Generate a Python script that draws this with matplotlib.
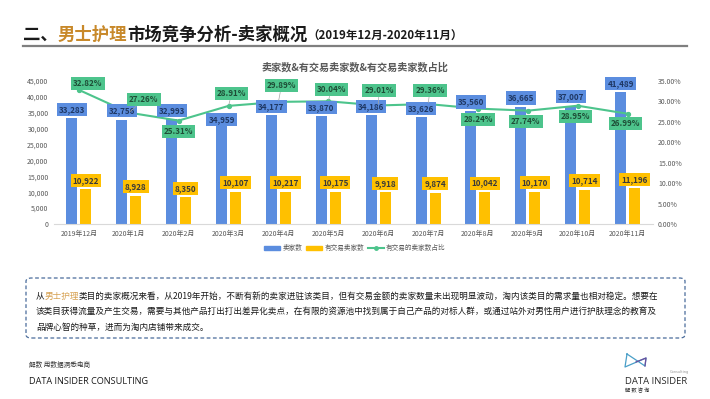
import matplotlib
matplotlib.use("Agg")
import matplotlib.pyplot as plt
from matplotlib.patches import FancyBboxPatch, Patch
from matplotlib.lines import Line2D
import numpy as np

plt.rcParams['font.family'] = ['Noto Sans CJK SC', 'DejaVu Sans']

months = ['2019年12月', '2020年1月', '2020年2月', '2020年3月', '2020年4月', '2020年5月',
          '2020年6月', '2020年7月', '2020年8月', '2020年9月', '2020年10月', '2020年11月']
sellers = [33283, 32756, 32993, 34959, 34177, 33870, 34186, 33626, 35560, 36665, 37007, 41489]
traded = [10922, 8928, 8350, 10107, 10217, 10175, 9918, 9874, 10042, 10170, 10714, 11196]
ratio = [32.82, 27.26, 25.31, 28.91, 29.89, 30.04, 29.01, 29.36, 28.24, 27.74, 28.95, 26.99]
left_ticks = [0, 5000, 10000, 15000, 20000, 25000, 30000, 35000, 40000, 45000]
right_ticks = [0, 5, 10, 15, 20, 25, 30, 35]

# label placement (pixels offset) - style only
ratio_off = [(9, 6), (15, 13), (0, -11), (3, 12), (3, 16), (3, 12), (1, 15), (2, 14),
             (0, -11), (-2, -11), (-2, -11), (-2, -10)]
seller_off = [9, 9, 9, -7, 9, 9, 9, 9, 9, 9.5, 9.5, 9]

W, H = 710, 399
BLUE = '#5B8DDF'
YEL = '#FFC000'
GRN = '#4DC48C'
GOLD = '#C8892A'

fig = plt.figure(figsize=(W / 100, H / 100), dpi=100)
fig.patch.set_facecolor('white')

def fx(x):
    return x / W

def fy(y):
    return 1 - y / H

# ---- title ----
t1 = fig.text(fx(23), fy(40), '二、', fontsize=12.5, fontweight='bold', color='#1a1a1a', va='baseline')
t2 = fig.text(0, 0, '男士护理', fontsize=12.5, fontweight='bold', color=GOLD, va='baseline')
t3 = fig.text(0, 0, '市场竞争分析-卖家概况', fontsize=12.5, fontweight='bold', color='#1a1a1a', va='baseline')
t4 = fig.text(0, 0, '（2019年12月-2020年11月）', fontsize=8.3, fontweight='bold', color='#1a1a1a', va='baseline')
fig.canvas.draw()
r = fig.canvas.get_renderer()
def place_after(prev, nxt, y):
    bb = prev.get_window_extent(r)
    nxt.set_position((bb.x1 / fig.bbox.width, y))
place_after(t1, t2, fy(40))
fig.canvas.draw()
place_after(t2, t3, fy(40))
fig.canvas.draw()
place_after(t3, t4, fy(40))

fig.add_artist(Line2D([fx(23), fx(687)], [fy(46), fy(46)], color='#7f7f7f', lw=1.6))

# chart title
fig.text(fx(355), fy(67), '卖家数&有交易卖家数&有交易卖家数占比', fontsize=7.3, fontweight='bold',
         color='#595959', ha='center', va='center')

# ---- axes ----
ax = fig.add_axes([fx(54), fy(224), (652.5 - 54) / W, (224 - 81) / H])
x = np.arange(len(months))
bw = 0.22
ax.bar(x - 0.14, sellers, bw, color=BLUE, zorder=2)
ax.bar(x + 0.14, traded, bw, color=YEL, zorder=2)
ax.set_xlim(-0.5, len(months) - 0.5)
ax.set_ylim(0, 45000)
ax.set_yticks(left_ticks)
ax.set_yticklabels([f'{v:,}' for v in left_ticks])
ax.set_xticks(x)
ax.set_xticklabels(months)
ax.tick_params(axis='y', length=0, labelsize=5, labelcolor='#595959', pad=4)
ax.tick_params(axis='x', length=0, labelsize=5, labelcolor='#595959', pad=4)
for s in ['top', 'right', 'left']:
    ax.spines[s].set_visible(False)
ax.spines['bottom'].set_color('#d9d9d9')
ax.spines['bottom'].set_linewidth(0.8)
ax.set_facecolor('none')

ax2 = ax.twinx()
ax2.set_ylim(0, 35)
ax2.set_yticks(right_ticks)
ax2.set_yticklabels([f'{v:.2f}%' for v in right_ticks])
ax2.tick_params(axis='y', length=0, labelsize=5, labelcolor='#595959', pad=4)
for s in ['top', 'right', 'left', 'bottom']:
    ax2.spines[s].set_visible(False)
ax2.plot(x, ratio, color=GRN, lw=1.5, marker='o', markersize=2.8, zorder=3)

lab_fs = 5.8
for i in range(len(months)):
    ax2.annotate(f'{sellers[i]:,}', xy=(x[i] - 0.14, sellers[i]), xycoords=ax.transData,
                 xytext=(0, seller_off[i]),
                 textcoords='offset pixels', ha='center', va='center', fontsize=lab_fs,
                 fontweight='bold', color='#1F3864', zorder=5,
                 bbox=dict(boxstyle='square,pad=0.25', fc=BLUE, ec='none'))
    ax2.annotate(f'{traded[i]:,}', xy=(x[i] + 0.14, traded[i]), xycoords=ax.transData,
                 xytext=(0, 9),
                 textcoords='offset pixels', ha='center', va='center', fontsize=lab_fs,
                 fontweight='bold', color='#3a3a3a', zorder=5,
                 bbox=dict(boxstyle='square,pad=0.25', fc=YEL, ec='none'))
    dx, dy = ratio_off[i]
    big = abs(dy) > 11.5 or abs(dx) > 10
    ax2.annotate(f'{ratio[i]:.2f}%', xy=(x[i], ratio[i]), xytext=(dx, dy),
                 textcoords='offset pixels', ha='center', va='center', fontsize=lab_fs,
                 fontweight='bold', color='#1e4d36', zorder=6,
                 bbox=dict(boxstyle='square,pad=0.25', fc=GRN, ec='none'),
                 arrowprops=dict(arrowstyle='-', color='#a6a6a6', lw=0.5,
                                 shrinkA=0, shrinkB=1) if big else None)

# legend
handles = [Patch(color=BLUE, label='卖家数'), Patch(color=YEL, label='有交易卖家数'),
           Line2D([0], [0], color=GRN, lw=1.5, marker='o', markersize=2.5, label='有交易的卖家数占比')]
fig.legend(handles=handles, loc='center', bbox_to_anchor=(fx(355), fy(248)), ncol=3,
           frameon=False, fontsize=4.8, handlelength=2.4, handleheight=0.6,
           columnspacing=0.6, handletextpad=0.3, labelcolor='#595959')

# ---- text box ----
box = FancyBboxPatch((fx(26), fy(338)), fx(685) - fx(26), fy(278) - fy(338),
                     boxstyle='round,pad=0,rounding_size=0.008', transform=fig.transFigure,
                     fc='none', ec='#4a6c9b', lw=0.9, ls=(0, (3, 2)))
fig.add_artist(box)

tfs = 6.2
a1 = fig.text(fx(36), fy(296), '从', fontsize=tfs, color='#1a1a1a', va='center')
a2 = fig.text(0, 0, '男士护理', fontsize=tfs, color='#D6A050', va='center')
a3 = fig.text(0, 0, '类目的卖家概况来看，从2019年开始，不断有新的卖家进驻该类目，但有交易金额的卖家数量未出现明显波动，淘内该类目的需求量也相对稳定。想要在',
              fontsize=tfs, color='#1a1a1a', va='center')
fig.canvas.draw()
place_after(a1, a2, fy(296))
fig.canvas.draw()
place_after(a2, a3, fy(296))
fig.text(fx(36), fy(311.5), '该类目获得流量及产生交易，需要与其他产品打出打出差异化卖点，在有限的资源池中找到属于自己产品的对标人群，或通过站外对男性用户进行护肤理念的教育及',
         fontsize=tfs, color='#1a1a1a', va='center')
fig.text(fx(36), fy(327), '品牌心智的种草，进而为淘内店铺带来成交。', fontsize=tfs, color='#1a1a1a', va='center')

# ---- footer ----
fig.text(fx(29), fy(365), '解数 用数据洞悉电商', fontsize=4.8, color='#333333', va='center')
fig.text(fx(29), fy(382), 'DATA INSIDER CONSULTING', fontsize=6.6, color='#1a1a1a', va='center',
         family=['Open Sans', 'DejaVu Sans'])

# logo
fig.add_artist(Line2D([fx(627), fx(645), fx(646), fx(625), fx(627)],
                      [fy(354), fy(366), fy(358), fy(367), fy(354)], color='#4a9fc8', lw=0.9))
fig.add_artist(Line2D([fx(636), fx(646), fx(645)], [fy(362), fy(358), fy(366)], color='#6b4f9e', lw=0.9))
fig.text(fx(625), fy(381), 'DATA INSIDER', fontsize=6.8, color='#2b2b2b', va='center',
         family=['Open Sans', 'DejaVu Sans'])
fig.text(fx(689), fy(372), 'Consulting', fontsize=2.6, color='#999999', va='center', ha='right',
         family=['DejaVu Sans'])
fig.text(fx(625), fy(391), '解 数 咨 询', fontsize=3.8, color='#2b2b2b', va='center')

fig.savefig('out.png', dpi=100, facecolor='white')
